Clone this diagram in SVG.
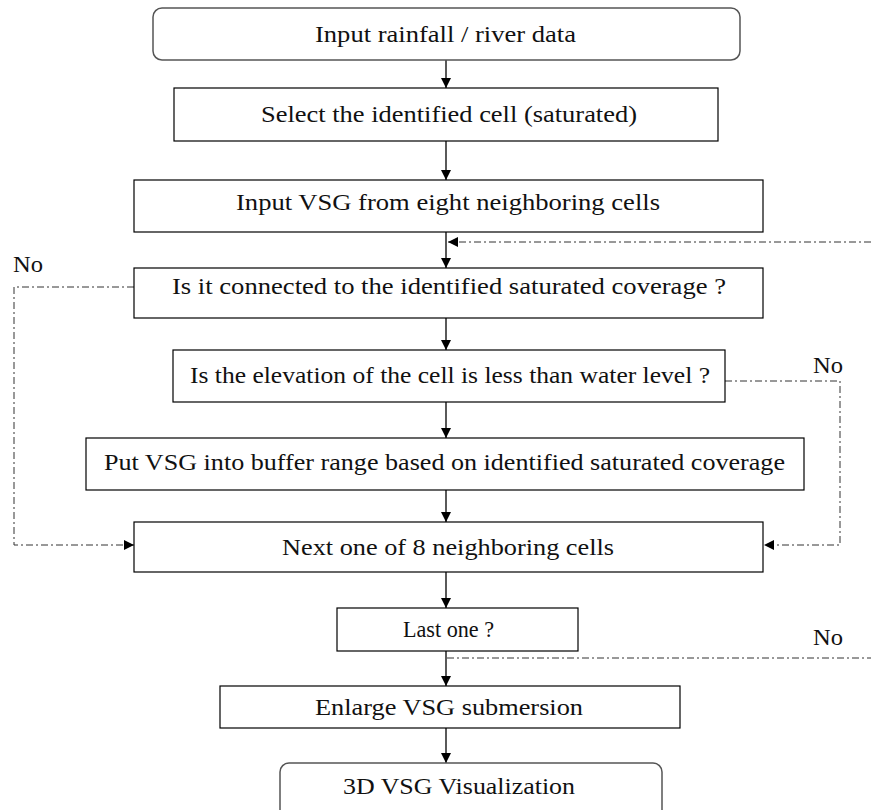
<svg xmlns="http://www.w3.org/2000/svg" width="871" height="810" viewBox="0 0 871 810">
<defs>
<marker id="ah" viewBox="0 0 10 10" refX="10" refY="5" markerWidth="10" markerHeight="10" markerUnits="userSpaceOnUse" orient="auto">
<path d="M0,0 L10,5 L0,10 z" fill="#000"/>
</marker>
</defs>
<rect width="871" height="810" fill="#fff"/>
<g id="connectors">
<g fill="none" stroke="#000" stroke-width="1.3">
<line x1="446" y1="60" x2="446" y2="88" marker-end="url(#ah)"/>
<line x1="446" y1="141" x2="446" y2="180" marker-end="url(#ah)"/>
<line x1="446" y1="232" x2="446" y2="268" marker-end="url(#ah)"/>
<line x1="446" y1="318" x2="446" y2="350" marker-end="url(#ah)"/>
<line x1="446" y1="402" x2="446" y2="438" marker-end="url(#ah)"/>
<line x1="446" y1="490" x2="446" y2="522" marker-end="url(#ah)"/>
<line x1="446" y1="572" x2="446" y2="608" marker-end="url(#ah)"/>
<line x1="446" y1="651" x2="446" y2="686" marker-end="url(#ah)"/>
<line x1="446" y1="728" x2="446" y2="763" marker-end="url(#ah)"/>
</g>
<g fill="none" stroke="#333" stroke-width="1" stroke-dasharray="7 3 2 3">
<polyline points="871,242 448,242" marker-end="url(#ah)"/>
<polyline points="134,287 14,287 14,545 134,545" marker-end="url(#ah)"/>
<polyline points="725,381 840,381 840,545 764,545" marker-end="url(#ah)"/>
<polyline points="447,658 871,658"/>
</g>
<text x="13" y="272" font-family="Liberation Serif" font-size="24" fill="#111" textLength="30" lengthAdjust="spacingAndGlyphs">No</text>
<text x="813" y="373" font-family="Liberation Serif" font-size="24" fill="#111" textLength="30" lengthAdjust="spacingAndGlyphs">No</text>
<text x="813" y="645" font-family="Liberation Serif" font-size="24" fill="#111" textLength="30" lengthAdjust="spacingAndGlyphs">No</text>
</g>
<g id="n1"><rect x="153" y="8" width="587" height="52" rx="9" fill="#fff" stroke="#555" stroke-width="1.5"/><text x="315" y="42" font-family="Liberation Serif" font-size="24" fill="#111" textLength="261" lengthAdjust="spacingAndGlyphs">Input rainfall / river data</text></g>
<g id="n2"><rect x="174" y="88" width="544" height="53" fill="#fff" stroke="#000" stroke-width="1.2"/><text x="261" y="122" font-family="Liberation Serif" font-size="24" fill="#111" textLength="376" lengthAdjust="spacingAndGlyphs">Select the identified cell (saturated)</text></g>
<g id="n3"><rect x="134" y="180" width="629" height="52" fill="#fff" stroke="#000" stroke-width="1.2"/><text x="236" y="210" font-family="Liberation Serif" font-size="24" fill="#111" textLength="424" lengthAdjust="spacingAndGlyphs">Input VSG from eight neighboring cells</text></g>
<g id="n4"><rect x="134" y="268" width="629" height="50" fill="#fff" stroke="#000" stroke-width="1.2"/><text x="172" y="294" font-family="Liberation Serif" font-size="24" fill="#111" textLength="554" lengthAdjust="spacingAndGlyphs">Is it connected to the identified saturated coverage ?</text></g>
<g id="n5"><rect x="173" y="350" width="552" height="52" fill="#fff" stroke="#000" stroke-width="1.2"/><text x="190" y="383" font-family="Liberation Serif" font-size="24" fill="#111" textLength="520" lengthAdjust="spacingAndGlyphs">Is the elevation of the cell is less than water level ?</text></g>
<g id="n6"><rect x="86" y="438" width="718" height="52" fill="#fff" stroke="#000" stroke-width="1.2"/><text x="104" y="470" font-family="Liberation Serif" font-size="24" fill="#111" textLength="681" lengthAdjust="spacingAndGlyphs">Put VSG into buffer range based on identified saturated coverage</text></g>
<g id="n7"><rect x="134" y="522" width="629" height="50" fill="#fff" stroke="#000" stroke-width="1.2"/><text x="282" y="555" font-family="Liberation Serif" font-size="24" fill="#111" textLength="332" lengthAdjust="spacingAndGlyphs">Next one of 8 neighboring cells</text></g>
<g id="n8"><rect x="337" y="608" width="241" height="43" fill="#fff" stroke="#000" stroke-width="1.2"/><text x="403" y="637" font-family="Liberation Serif" font-size="24" fill="#111" textLength="91" lengthAdjust="spacingAndGlyphs">Last one ?</text></g>
<g id="n9"><rect x="220" y="686" width="460" height="42" fill="#fff" stroke="#000" stroke-width="1.2"/><text x="315" y="715" font-family="Liberation Serif" font-size="24" fill="#111" textLength="268" lengthAdjust="spacingAndGlyphs">Enlarge VSG submersion</text></g>
<g id="n10"><rect x="280" y="763" width="382" height="60" rx="9" fill="#fff" stroke="#555" stroke-width="1.5"/><text x="343" y="794" font-family="Liberation Serif" font-size="24" fill="#111" textLength="232" lengthAdjust="spacingAndGlyphs">3D VSG Visualization</text></g>
</svg>
